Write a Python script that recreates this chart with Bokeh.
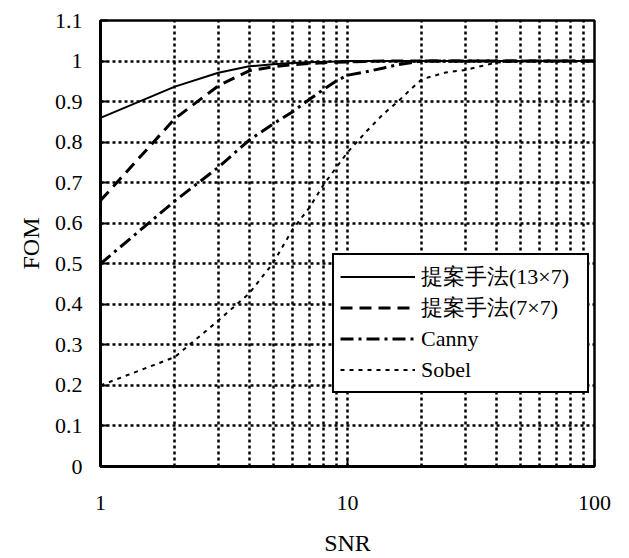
from bokeh.plotting import figure
from bokeh.models import Range1d, FixedTicker, CustomJSTickFormatter
from bokeh.embed import file_html
from bokeh.resources import INLINE

# ---- data ----
snr = [1, 2, 3, 4, 5, 6, 7, 8, 9, 10, 12, 14, 16, 18, 20, 25, 30, 35, 40, 50, 60, 70, 80, 90, 100]
prop_13x7 = [0.86, 0.937, 0.971, 0.987, 0.992, 0.995, 0.997, 0.998, 0.999, 1.0, 1.0, 1.0, 1.0,
             1.0, 1.0, 1.0, 1.0, 1.0, 1.0, 1.0, 1.0, 1.0, 1.0, 1.0, 1.0]
prop_7x7 = [0.656, 0.858, 0.939, 0.976, 0.986, 0.991, 0.994, 0.996, 0.997, 0.998, 0.999, 1.0, 1.0,
            1.0, 1.0, 1.0, 1.0, 1.0, 1.0, 1.0, 1.0, 1.0, 1.0, 1.0, 1.0]
canny = [0.5, 0.655, 0.738, 0.805, 0.845, 0.875, 0.905, 0.93, 0.951, 0.965, 0.974, 0.983, 0.991,
         0.996, 1.0, 1.0, 1.0, 1.0, 1.0, 1.0, 1.0, 1.0, 1.0, 1.0, 1.0]
sobel = [0.2, 0.27, 0.36, 0.427, 0.502, 0.585, 0.638, 0.695, 0.737, 0.775, 0.828, 0.87, 0.9,
         0.93, 0.955, 0.972, 0.978, 0.988, 0.996, 1.0, 1.0, 1.0, 1.0, 1.0, 1.0]

labels = ["提案手法(13×7)", "提案手法(7×7)", "Canny", "Sobel"]
x_ticks = [1, 10, 100]
x_grid = [2, 3, 4, 5, 6, 7, 8, 9, 10, 20, 30, 40, 50, 60, 70, 80, 90]
y_ticks = [0, 0.1, 0.2, 0.3, 0.4, 0.5, 0.6, 0.7, 0.8, 0.9, 1.0, 1.1]
y_grid = [0.1, 0.2, 0.3, 0.4, 0.5, 0.6, 0.7, 0.8, 0.9, 1.0]

SERIF = "Liberation Serif"

p = figure(width=629, height=558, x_axis_type="log",
           x_range=Range1d(1, 100), y_range=Range1d(0, 1.1),
           output_backend="svg", toolbar_location=None,
           min_border_left=100, min_border_right=35, min_border_top=20, min_border_bottom=92,
           x_axis_label="SNR", y_axis_label="FOM")

p.background_fill_color = "white"
p.border_fill_color = "white"
p.outline_line_color = "black"
p.outline_line_width = 2.5
p.outline_line_alpha = 1.0

# grids
p.xgrid.ticker = FixedTicker(ticks=x_grid)
p.ygrid.ticker = FixedTicker(ticks=y_grid)
for g in (p.xgrid, p.ygrid):
    g.grid_line_color = "black"
    g.grid_line_width = 2.5
    g.grid_line_dash = "3 3"
    g.grid_line_alpha = 1.0

# axes
p.xaxis.ticker = FixedTicker(ticks=x_ticks)
p.yaxis.ticker = FixedTicker(ticks=y_ticks)
p.xaxis.formatter = CustomJSTickFormatter(code="return String(Math.round(tick));")
p.yaxis.formatter = CustomJSTickFormatter(code="return String(Number(tick.toFixed(1)));")
for ax in (p.xaxis, p.yaxis):
    ax.axis_line_color = "black"
    ax.axis_line_width = 3
    ax.major_tick_line_color = "black"
    ax.major_tick_line_width = 2
    ax.major_tick_in = 7
    ax.major_tick_out = 0
    ax.minor_tick_line_color = None
    ax.major_label_text_font = SERIF
    ax.major_label_text_font_size = "22px"
    ax.major_label_text_color = "black"
    ax.axis_label_text_font = SERIF
    ax.axis_label_text_font_size = "24px"
    ax.axis_label_text_font_style = "normal"
    ax.axis_label_text_color = "black"
p.xaxis.major_label_standoff = 29
p.xaxis.axis_label_standoff = 17
p.yaxis.major_label_standoff = 18
p.yaxis.axis_label_standoff = 8

# series
p.line(snr, prop_13x7, line_color="black", line_width=2, legend_label=labels[0])
p.line(snr, prop_7x7, line_color="black", line_width=3, line_dash="12 7", legend_label=labels[1])
p.line(snr, canny, line_color="black", line_width=3, line_dash="13 5 3 5", legend_label=labels[2])
p.line(snr, sobel, line_color="black", line_width=2, line_dash="4 5", legend_label=labels[3])

lg = p.legend[0]
lg.location = (232, 73)
lg.border_line_color = "black"
lg.border_line_width = 2.5
lg.border_line_alpha = 1.0
lg.background_fill_color = "white"
lg.background_fill_alpha = 1.0
lg.padding = 6
lg.spacing = 0
lg.margin = 0
lg.glyph_width = 75
lg.glyph_height = 31
lg.label_height = 31
lg.label_width = 160
lg.label_standoff = 6
lg.label_text_font = SERIF
lg.label_text_font_size = "22px"
lg.label_text_color = "black"

open("out.html", "w").write(file_html(p, INLINE))
